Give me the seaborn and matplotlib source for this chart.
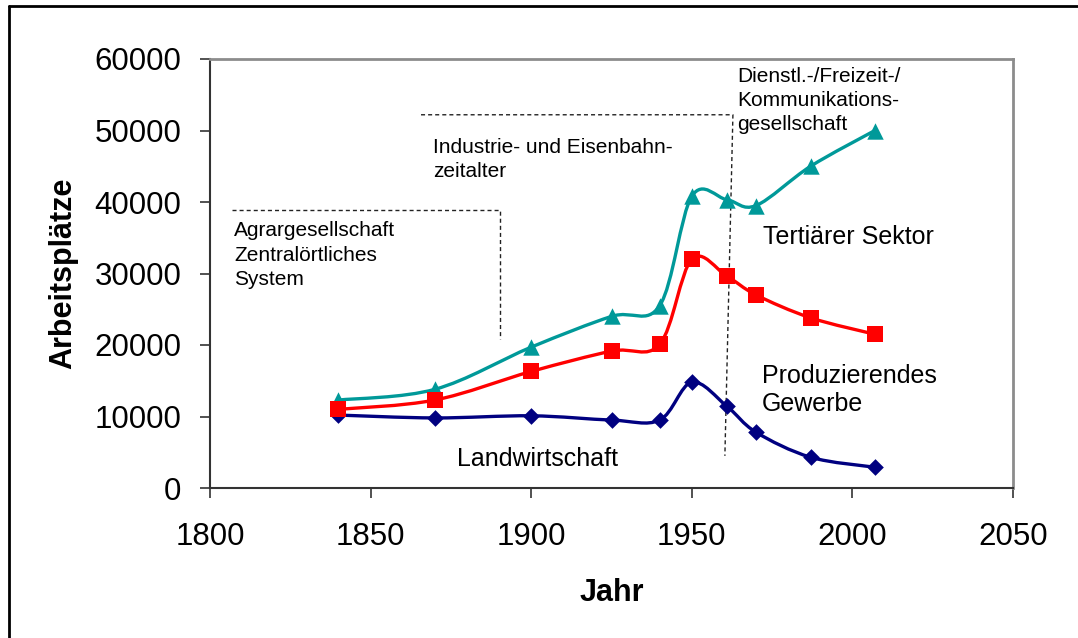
import numpy as np
import pandas as pd
import matplotlib
matplotlib.use("Agg")
import matplotlib.pyplot as plt
from matplotlib.path import Path
from matplotlib.patches import PathPatch
from matplotlib.lines import Line2D
import seaborn as sns

sns.set_theme(style="white")
plt.rcParams["font.family"] = ["Liberation Sans", "DejaVu Sans"]
plt.rcParams["text.color"] = "black"
plt.rcParams["axes.labelcolor"] = "black"
plt.rcParams["xtick.color"] = "black"
plt.rcParams["ytick.color"] = "black"

# Werte
jahre = [1840, 1870, 1900, 1925, 1940, 1950, 1961, 1970, 1987, 2007]
tertiaer = [12300, 13800, 19700, 24000, 25500, 40800, 40300, 39500, 45000, 50000]
produzierend = [11000, 12300, 16300, 19150, 20100, 32000, 29600, 27000, 23800, 21500]
landwirtschaft = [10200, 9800, 10100, 9500, 9500, 14800, 11400, 7800, 4300, 2900]

x_ticks = [1800, 1850, 1900, 1950, 2000, 2050]
y_ticks = [0, 10000, 20000, 30000, 40000, 50000, 60000]

df = pd.DataFrame({
    "Jahr": jahre * 3,
    "Arbeitsplätze": landwirtschaft + tertiaer + produzierend,
    "Sektor": ["Landwirtschaft"] * 10 + ["Tertiär"] * 10 + ["Produzierend"] * 10,
})

styles = {
    "Landwirtschaft": dict(color="#000080", marker="D", s=72),
    "Tertiär": dict(color="#009999", marker="^", s=140),
    "Produzierend": dict(color="#ff0000", marker="s", s=122),
}


def smooth_path(xs, ys):
    # Excel-artige Glättung (Catmull-Rom als Bezier)
    pts = np.column_stack([xs, ys]).astype(float)
    n = len(pts)
    verts = [pts[0]]
    codes = [Path.MOVETO]
    for i in range(n - 1):
        p0 = pts[i - 1] if i > 0 else pts[i]
        p1 = pts[i]
        p2 = pts[i + 1]
        p3 = pts[i + 2] if i + 2 < n else pts[i + 1]
        verts += [p1 + (p2 - p0) / 6, p2 - (p3 - p1) / 6, p2]
        codes += [Path.CURVE4] * 3
    return Path(verts, codes)


fig = plt.figure(figsize=(10.78, 6.38), dpi=100)
ax = fig.add_axes([210 / 1078, 1 - 488 / 638, (1013 - 210) / 1078, (488 - 59) / 638])

z = 3
for name, st in styles.items():
    sub = df[df["Sektor"] == name]
    ax.add_patch(PathPatch(smooth_path(sub["Jahr"], sub["Arbeitsplätze"]),
                           facecolor="none", edgecolor=st["color"], lw=2.4,
                           zorder=z, joinstyle="round", capstyle="round"))
    sns.scatterplot(data=sub, x="Jahr", y="Arbeitsplätze", ax=ax, color=st["color"],
                    marker=st["marker"], s=st["s"], linewidth=0, zorder=z + 1, legend=False)
    z += 2

ax.set_xlim(1800, 2050)
ax.set_ylim(0, 60000)
ax.set_xticks(x_ticks)
ax.set_yticks(y_ticks)
ax.tick_params(axis="both", direction="out", length=7.5, width=1.2, color="#333333",
               labelsize=22.5, labelcolor="black", bottom=True, left=True)
ax.tick_params(axis="y", pad=13)
ax.tick_params(axis="x", pad=17)

for side in ["left", "bottom"]:
    ax.spines[side].set_color("#333333")
    ax.spines[side].set_linewidth(1.5)
for side in ["top", "right"]:
    ax.spines[side].set_color("#8c8c8c")
    ax.spines[side].set_linewidth(2)

ax.set_xlabel("Jahr", fontsize=22, fontweight="bold", labelpad=19, color="black")
ax.set_ylabel("Arbeitsplätze", fontsize=22, fontweight="bold", labelpad=12, color="black")

# gestrichelte Epochen-Linien
dash = dict(color="#222222", lw=1.0, dashes=(2.9, 2.2), zorder=2)
ax.plot([1806.8, 1890.3, 1890.3], [38900, 38900, 20800], **dash)
ax.plot([1865.7, 1962.8, 1960.3], [52200, 52200, 4500], **dash)

txt = dict(fontsize=15, va="top", ha="left", linespacing=1.35, color="black")
ax.text(1807.5, 37300, "Agrargesellschaft\nZentralörtliches\nSystem", **txt)
ax.text(1869.4, 49000, "Industrie- und Eisenbahn-\nzeitalter", **txt)
ax.text(1964.1, 58900, "Dienstl.-/Freizeit-/\nKommunikations-\ngesellschaft", **txt)

big = dict(fontsize=18, va="top", ha="left", linespacing=1.2, color="black")
ax.text(1972.2, 36800, "Tertiärer Sektor", **big)
ax.text(1971.9, 17300, "Produzierendes\nGewerbe", **big)
ax.text(1876.9, 5700, "Landwirtschaft", **big)

# Rahmen um die Grafik (oben und links)
fig.add_artist(Line2D([9 / 1078, 1], [1 - 6 / 638, 1 - 6 / 638], transform=fig.transFigure,
                      color="black", lw=2))
fig.add_artist(Line2D([9 / 1078, 9 / 1078], [0, 1 - 6 / 638], transform=fig.transFigure,
                      color="black", lw=2))

fig.savefig("out.png", dpi=100, facecolor="white")
